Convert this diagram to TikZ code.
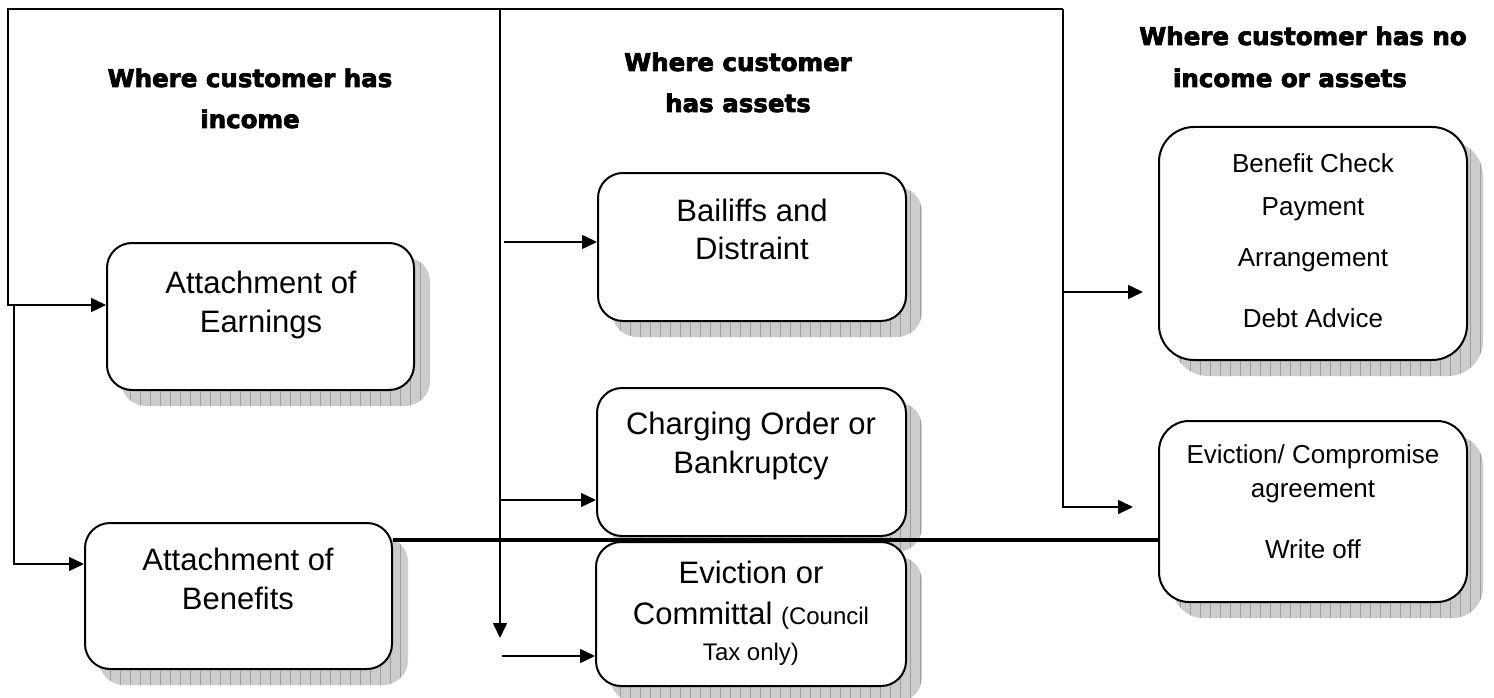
\documentclass[tikz,border=0pt]{standalone}
\usepackage{fontspec}
\setmainfont{Liberation Sans}
\newfontfamily\hdrfont{DejaVu Sans Bold}[FakeBold=3]
\usetikzlibrary{arrows.meta,calc}
\pgfdeclarelayer{bg}
\pgfsetlayers{bg,main}
\tikzset{
  rbox/.style={draw, line width=2pt, fill=white, inner sep=0pt},
  btxt/.style={anchor=base, inner sep=0pt, font=\fontsize{31}{36}\selectfont},
  ctxt/.style={anchor=base, inner sep=0pt, font=\fontsize{24}{28}\selectfont},
  stxt/.style={anchor=base, inner sep=0pt, font=\fontsize{26}{30}\selectfont},
  htxt/.style={anchor=base, inner sep=0pt, font=\hdrfont\fontsize{24.5}{30}\selectfont},
  conn/.style={line width=1.6pt},
  arr/.style={conn, -{Triangle[length=15pt,width=14pt]}},
  heavyline/.style={line width=3.5pt},
  shfill/.style={fill=black!20},
  shgrid/.style={draw=black!38, line width=0.5pt},
}
% name, x1, y1, x2, y2, radius
\newcommand\mybox[6]{%
  \node[rbox, rounded corners=#6, minimum width={#4-#2}, minimum height={#5-#3}]
    (#1) at ({(#2+#4)/2},{(#3+#5)/2}) {};
  \begin{pgfonlayer}{bg}
    \begin{scope}
      \clip[rounded corners=#6] ([shift={(15,15)}]#1.north west) rectangle ([shift={(15,15)}]#1.south east);
      \fill[shfill] (#1.north west) rectangle ([shift={(20,20)}]#1.south east);
      \draw[shgrid, step=10] (#1.north west) grid ([shift={(20,20)}]#1.south east);
    \end{scope}
  \end{pgfonlayer}
}
\begin{document}
\begin{tikzpicture}[x=1pt, y=-1pt]
\useasboundingbox (0,0) rectangle (1494,698);
\begin{pgfonlayer}{bg}
  \fill[white] (0,0) rectangle (1494,698);
\end{pgfonlayer}

% headers
\node[htxt] (h1a) at (250,87) {Where customer has};
\node[htxt] (h1b) at (250,128) {income};
\node[htxt] (h2a) at (738,71) {Where customer};
\node[htxt] (h2b) at (738,112) {has assets};
\node[htxt] (h3a) at (1303,45) {Where customer has no};
\node[htxt] (h3b) at (1290,87) {income or assets};

% boxes
\mybox{earn}{107}{243}{414}{390}{25}
\mybox{ben}{85}{523}{392}{669}{25}
\mybox{bail}{598}{173}{906}{321}{25}
\mybox{charge}{597}{388}{906}{536}{25}
\mybox{evict}{596}{542}{906}{686}{25}
\mybox{bcheck}{1159}{127}{1467}{360}{35}
\mybox{ecomp}{1159}{421}{1467}{602}{30}

% box texts
\node[btxt] (earn1) at (261,293) {Attachment of};
\node[btxt] (earn2) at (261,332) {Earnings};
\node[btxt] (ben1) at (238,570) {Attachment of};
\node[btxt] (ben2) at (238,609) {Benefits};
\node[btxt] (bail1) at (752,221) {Bailiffs and};
\node[btxt] (bail2) at (752,259) {Distraint};
\node[btxt] (charge1) at (751,434) {Charging Order or};
\node[btxt] (charge2) at (751,473) {Bankruptcy};
\node[btxt] (evict1) at (751,583) {Eviction or};
\node[btxt] (evict2) at (751,624) {Committal {\fontsize{24}{28}\selectfont(Council}};
\node[ctxt] (evict3) at (751,660) {Tax only)};
\node[stxt] (bc1) at (1313,172) {Benefit Check};
\node[stxt] (bc2) at (1313,215) {Payment};
\node[stxt] (bc3) at (1313,266) {Arrangement};
\node[stxt] (bc4) at (1313,327) {Debt Advice};
\node[stxt] (ec1) at (1313,463) {Eviction/ Compromise};
\node[stxt] (ec2) at (1313,497) {agreement};
\node[stxt] (ec3) at (1313,558) {Write off};

% connector points
\coordinate (tl) at (8,9);
\coordinate (tm) at (500,9);
\coordinate (tr) at (1063,9);
\coordinate (a1) at (8,305);
\coordinate (b1) at (14,305);
\coordinate (b2) at (14,564);
\coordinate (dn) at (500,638);
\coordinate (c1) at (504,242);
\coordinate (c2) at (500,500);
\coordinate (c3) at (502,656);
\coordinate (r1) at (1063,292);
\coordinate (r1e) at (1143,292);
\coordinate (r2) at (1063,507);
\coordinate (r2e) at (1133,507);
\coordinate (k1) at (392,540);

% connectors
\draw[arr] (tr) -- (tl) -- (a1) -- (a1 -| earn.west);
\draw[arr] (b1) -- (b2) -- (b2 -| ben.west);
\draw[arr] (tm) -- (dn);
\draw[arr] (c1) -- (c1 -| bail.west);
\draw[arr] (c2) -- (c2 -| charge.west);
\draw[arr] (c3) -- (c3 -| evict.west);
\draw[arr] (tr) -- (r2) -- (r2e);
\draw[arr] (r1) -- (r1e);
\draw[heavyline] (k1 -| ben.east) -- (k1 -| ecomp.west);
\end{tikzpicture}
\end{document}
